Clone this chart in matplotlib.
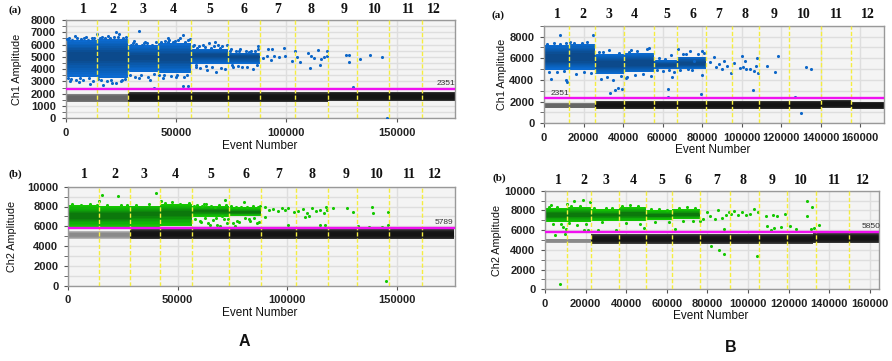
""" droplet amplitude plots for two runs, channels 1 and 2 """
from matplotlib import pyplot as plt
from matplotlib.colors import LinearSegmentedColormap
from matplotlib.ticker import MultipleLocator

W, H = 892, 361
WELL_NAMES = [str(i) for i in range(1, 13)]

# panel A, channel 1
aa_edges = [14050, 28250, 42000, 56650, 73400, 88000, 104100, 118900, 131900, 146700, 161600]
aa_pos_ends = [14050, 28250, 42000, 56650, 73400, 88000]
aa_pos_lo = [3400, 3300, 3800, 3700, 4400, 4400]
aa_pos_hi = [6350, 6450, 5950, 6100, 5650, 5350]
aa_core_lo = [4300, 4300, 4500, 4400, 4850, 4800]
aa_core_hi = [5800, 5800, 5400, 5500, 5350, 5200]
aa_neg_ends = [28250, 118900, 176400]
aa_neg_lo = [1300, 1300, 1400]
aa_neg_hi = [1950, 2100, 2150]
aa_x = [22800, 33400, 14050, 46200, 53000, 56300, 67700, 73000, 87300, 91500, 93700, 99100,
        103900, 109700, 114500, 118600, 110700, 115300, 126900, 128400, 128400, 133400, 137900,
        143200, 130400, 40200, 53300, 55300, 145800, 89600, 91000, 93000, 94500, 96500, 99500,
        102500, 104800, 106300, 111000, 112500, 115500, 117000, 118300, 2000, 6000, 11000,
        17000, 21000, 25000, 33000, 38000, 44000, 50000, 59000, 62000, 65000, 69000, 71000,
        76000, 80000, 85000, 4000, 9000, 19000, 24000, 31000, 36000, 47000, 52000, 58000,
        61000, 64000, 68000, 72000, 75000, 79000, 84000,
        500, 1500, 3000, 5000, 7000, 8500, 10000, 12000, 13000, 15500, 16500, 18000, 20000, 22000,
        23500, 26000, 27500, 29500, 30500, 32000, 34500, 35500, 37000, 39000, 41000, 43000, 45000,
        46500, 48500, 49500, 51000, 54000, 55500, 57500, 59500, 60500, 63000, 66000, 67000, 70000,
        74500, 77000, 78500, 81500, 83000, 86000, 87000,
        1000, 2500, 4500, 6500, 8000, 10500, 12500, 14500, 16000, 18500, 20500, 23000, 25500, 27000,
        29000, 31500, 34000, 37500, 40000, 42500, 44500, 47500, 50500, 53500, 55000, 59000, 63500,
        66500, 70500, 75500, 78000, 82000, 86500]
aa_y = [7000, 7130, 6830, 6560, 6780, 6420, 6180, 5960, 5900, 5610, 5610, 5690,
        5470, 5340, 5560, 5500, 4060, 4340, 5150, 5150, 4550, 4850, 5150,
        4960, 2570, 2440, 2630, 2630, 50, 4880, 5050, 4750, 5100, 4950, 5050,
        4700, 5000, 4600, 5050, 4900, 4800, 5000, 5100, 3050, 2950, 2800,
        2700, 2850, 3000, 3300, 3150, 3300, 3400, 4200, 6000, 6100, 6000, 5900,
        4150, 4200, 4050, 6700, 6600, 6700, 6850, 6300, 6250, 6350, 6500, 5950,
        4100, 3950, 3800, 4000, 5650, 5600, 5500,
        6450, 6500, 6400, 6550, 6450, 6500, 6400, 6500, 6550, 6500, 6600, 6550, 6500, 6650,
        6600, 6500, 6650, 6000, 6100, 6050, 6000, 6100, 6150, 6000, 6250, 6200, 6300,
        6250, 6200, 6300, 6350, 6250, 6400, 5900, 5750, 5850, 5800, 5750, 5900, 5700,
        5450, 5500, 5450, 5500, 5400, 5450, 5600,
        3300, 3200, 3100, 3250, 3150, 3300, 3000, 3200, 3100, 3000, 3150, 2900, 3100, 3200,
        3500, 3400, 3550, 3400, 3600, 3500, 3550, 3450, 3500, 3400, 3500, 4300, 4250,
        4150, 4100, 4300, 4250, 4200, 4350]
aa_limit = 2351

# panel A, channel 2
ab_edges = [14100, 28200, 42000, 56500, 73500, 88000, 104000, 118500, 131900, 146400, 161400]
ab_pos_ends = [14100, 28200, 42000, 56500, 73500, 88000]
ab_pos_lo = [5900, 5900, 5950, 6000, 6950, 7000]
ab_pos_hi = [8150, 8050, 8100, 8250, 8050, 7900]
ab_core_lo = [6500, 6500, 6800, 6800, 7300, 7250]
ab_core_hi = [7600, 7600, 7700, 7800, 7700, 7600]
ab_neg_ends = [28200, 176000]
ab_neg_lo = [4750, 4700]
ab_neg_hi = [5500, 5700]
ab_x = [15700, 22900, 40300, 42300, 47500, 14000, 71500, 62000, 80000, 90000, 91500, 93500,
        95500, 97500, 99000, 100500, 103000, 105000, 107000, 109000, 111000, 113000, 115000,
        116500, 117500, 118000, 121000, 127000, 130000, 139000, 138500, 146000, 100500, 115000,
        117000, 146000, 145000, 60000, 64000, 70000, 78000, 83000, 86000, 90000, 66000, 75000,
        132000, 137000, 143000, 73000, 76000, 68000, 110000, 108000,
        57500, 59000, 61000, 63000, 65000, 67000, 69000, 72000, 74500, 76500, 79000, 81500, 84500,
        86500, 87500, 58000, 60500, 62500, 64500, 67500, 69500, 71000, 72500, 77000, 80500, 82500,
        85000, 87000, 2000, 6000, 10000, 13000, 18000, 24000, 27000, 31000, 37000, 44000, 51000, 55000]
ab_y = [9150, 9050, 9350, 8600, 8450, 8600, 8650, 8300, 8450, 7900, 7600, 7750,
        7500, 7800, 7650, 7800, 7400, 7500, 7700, 7300, 7800, 7500, 7650,
        7300, 8000, 7600, 7800, 7850, 7450, 7300, 7950, 7450, 6150, 6100,
        6100, 6100, 450, 6500, 6300, 7000, 6400, 6500, 6350, 6900, 6600, 6300,
        6000, 5950, 5950, 6700, 6000, 6100, 7000, 6900,
        8100, 8200, 8050, 8250, 8100, 8000, 8200, 8150, 8050, 8000, 7950, 8000, 8100,
        7950, 8050, 6700, 6400, 6850, 6100, 6800, 6050, 6750, 6350, 6550, 6800, 6700,
        6800, 6400, 8250, 8200, 8250, 8150, 8150, 8150, 8200, 8200, 8250, 8350, 8300, 8350]
ab_limit = 5789

# panel B, channel 1
ba_edges = [12800, 26000, 40500, 55500, 67300, 82000, 95300, 108600, 124100, 140000, 155100]
ba_pos_ends = [12800, 26000, 40500, 55500, 67300, 82000]
ba_pos_lo = [4950, 4950, 4550, 4700, 5000, 5050]
ba_pos_hi = [7200, 7350, 6350, 6500, 5850, 6150]
ba_core_lo = [5300, 5300, 4950, 5000, 5150, 5200]
ba_core_hi = [6800, 6900, 5950, 6100, 5600, 5850]
ba_neg_ends = [26000, 140000, 155100, 172000]
ba_neg_lo = [1380, 1300, 1400, 1300]
ba_neg_hi = [1850, 2050, 2150, 2000]
ba_x = [8300, 25000, 13000, 3500, 11200, 11800, 33500, 36000, 37500, 39500, 41500, 62500, 62800,
        79500, 79700, 80000, 67800, 70300, 84000, 87000, 88500, 91000, 92500, 94500, 96000,
        100000, 100500, 101500, 104000, 106000, 108000, 108500, 105500, 113000, 117000, 118500,
        132500, 135000, 127000, 130000, 86000, 90000, 99000, 102000, 107000, 65000, 74000,
        30000, 44000, 53000, 58000, 61000, 64000, 72000, 76000,
        1500, 5000, 8000, 11000, 15000, 19000, 22000, 28000, 33000, 38000, 43000, 47000, 52000,
        2500, 6500, 10000, 16000, 20000, 24000, 29000, 32000, 35000, 39000, 42000, 46000, 50000, 54000,
        57000, 60000, 63000, 66000, 69000, 73000, 75000, 78000, 81000]
ba_y = [8150, 8150, 7500, 4050, 3950, 3800, 2800, 3100, 3300, 3150, 4150, 3150, 2400,
        2700, 6700, 4450, 6850, 6350, 5650, 5200, 5500, 5750, 5300, 4600, 5550,
        6200, 5150, 5700, 5050, 4800, 6000, 4600, 3050, 5250, 4700, 6200,
        5200, 5050, 2400, 950, 6100, 5000, 5100, 5000, 5300, 4300, 6650,
        6600, 6750, 6900, 6000, 5950, 6300, 6400, 5700,
        7300, 7400, 7350, 7450, 7400, 7450, 7500, 6600, 6750, 6500, 6600, 6700, 6850,
        4750, 4700, 4800, 4500, 4750, 4600, 4100, 4300, 4000, 4400, 4250, 4450, 4500, 4400,
        4900, 4850, 4900, 4750, 4950, 5000, 4900, 6350, 6500]
ba_limit = 2351

# panel B, channel 2
bb_edges = [10800, 22500, 36300, 49600, 62700, 76500, 91000, 105400, 119400, 133700, 149800]
bb_pos_ends = [10800, 22500, 36300, 49600, 62700, 76500]
bb_pos_lo = [6800, 6800, 6950, 6900, 7050, 7100]
bb_pos_hi = [8250, 8350, 8100, 8350, 8000, 8150]
bb_core_lo = [7150, 7150, 7250, 7200, 7250, 7300]
bb_core_hi = [7900, 8000, 7800, 8000, 7750, 7850]
bb_neg_ends = [22500, 132000, 164500]
bb_neg_lo = [4700, 4600, 4650]
bb_neg_hi = [5150, 5600, 5700]
bb_x = [3000, 11000, 14500, 18500, 22000, 9000, 10500, 19000, 21000, 76500, 78000, 80000, 81500,
        83500, 85000, 87000, 89000, 90500, 91500, 93000, 95000, 97000, 99000, 101000, 103000,
        105000, 109000, 112500, 114500, 118000, 129000, 131500, 129000, 135000, 131000, 132500,
        109500, 111500, 113000, 116000, 120500, 123500, 88000, 7500, 82000, 85500, 88000, 104500,
        5000, 10000, 64000, 49000, 35000, 26000,
        2000, 6000, 13000, 17000, 24000, 30000, 33000, 38000, 42000, 46000, 52000, 56000, 60000,
        66000, 70000, 74000, 4000, 8000, 12000, 16000, 20000, 28000, 40000, 47000, 54000, 61000, 68000, 73000]
bb_y = [8500, 8650, 9000, 9100, 8850, 6300, 6150, 6000, 6050, 6900, 7100, 7850, 7400,
        7100, 8050, 7200, 7500, 7800, 7600, 7900, 7500, 7850, 7500, 7600, 8100,
        7800, 7400, 7550, 7400, 7600, 9000, 8300, 7400, 6500, 6100, 6250,
        6400, 6000, 6200, 6300, 6400, 6100, 6150, 500, 4350, 4000, 3600, 3350,
        5500, 5600, 6100, 6200, 6000, 6000,
        8350, 8300, 8400, 8450, 8200, 8250, 8200, 8450, 8500, 8400, 8150, 8100, 8050,
        8250, 8300, 8200, 6600, 6650, 6700, 6500, 6600, 6800, 6750, 6650, 6850, 6800, 6950, 6900]
bb_limit = 5850


def add_well_labels(fig, xs, y):
    """ put well numbers above a panel, positions in image pixels """
    for _name, _x in zip(WELL_NAMES, xs):
        fig.text(_x / W, 1 - y / H, _name, family="Liberation Serif", fontweight="bold",
                 fontsize=10, ha="center", va="center", color="#111111")


def draw_band(ax, start, width, lo, hi, core_lo, core_hi, cmap, num=8):
    """ nested blocks from the outer limits of a well to its dense core """
    for k in range(num):
        _t = k / (num - 1)
        _lo = lo + (core_lo - lo) * _t
        _hi = hi + (core_hi - hi) * _t
        ax.bar(start, _hi - _lo, width, _lo, align="edge", color=cmap(_t), linewidth=0, zorder=2)


def draw_panel(fig, box, xlim, ylim, xstep, ystep, ylabel, colors, greys, dot_color, edges, pos_ends, pos_lo, pos_hi,
               core_lo, core_hi, neg_ends, neg_lo, neg_hi, x, y, limit, limit_xy, ylabel_px, xlabel_px):
    """ draw one amplitude panel, box is left, top, right, bottom in image pixels """
    _left, _top, _right, _bottom = box
    ax = fig.add_axes([_left / W, 1 - _bottom / H, (_right - _left) / W, (_bottom - _top) / H])
    ax.set_facecolor("#f4f4f4")
    ax.set_xlim(xlim)
    ax.set_ylim(ylim)

    # grid
    ax.xaxis.set_major_locator(MultipleLocator(xstep))
    ax.yaxis.set_major_locator(MultipleLocator(ystep))
    ax.yaxis.set_minor_locator(MultipleLocator(ystep / 2))
    ax.grid(True, which="both", color="#dedede", linewidth=1.0, zorder=0)
    ax.set_axisbelow(True)

    # positive clouds, one block per well
    _cmap = LinearSegmentedColormap.from_list("pos", colors)
    _start = 0
    for i, _end in enumerate(pos_ends):
        _mid = (core_hi[i] + core_lo[i]) / 2
        _half = (core_hi[i] - core_lo[i]) / 4
        draw_band(ax, _start, _end - _start, pos_lo[i], pos_hi[i], _mid - _half, _mid + _half, _cmap)
        _start = _end

    # negative clouds
    _start = 0
    _grey_map = LinearSegmentedColormap.from_list("first", greys)
    _black_map = LinearSegmentedColormap.from_list("rest", ["#3c3c3c", "#1c1c1c", "#141414"])
    for i, _end in enumerate(neg_ends):
        _mid = (neg_hi[i] + neg_lo[i]) / 2
        draw_band(ax, _start, _end - _start, neg_lo[i], neg_hi[i], _mid - 150, _mid + 150,
                  _grey_map if i == 0 else _black_map)
        _start = _end

    # single droplets
    ax.scatter(x, y, s=5, color=dot_color, linewidths=0, zorder=3)

    # well boundaries and threshold
    for _edge in edges:
        ax.axvline(_edge, color="#f5ee40", linewidth=1.0, linestyle=(0, (3, 1.5)), zorder=4)
    ax.axhline(limit, color="#f010f0", linewidth=1.7, zorder=5)
    ax.text(limit_xy[0], limit_xy[1], str(limit), fontsize=6, color="#333333", family="Liberation Sans",
            ha="left", va="center", zorder=6)

    # frame and labels
    for _spine in ax.spines.values():
        _spine.set_color("#999999")
        _spine.set_linewidth(1.0)
    ax.tick_params(axis="both", which="major", length=3, color="#555555", labelsize=8, pad=4, labelcolor="#222222")
    ax.tick_params(axis="y", which="minor", length=3, color="#555555")
    for _label in ax.get_xticklabels() + ax.get_yticklabels():
        _label.set_family("Liberation Sans")
        _label.set_fontweight("bold")
    ax.set_xlabel("Event Number", family="Liberation Sans", fontsize=8.5, color="#111111")
    ax.set_ylabel(ylabel, family="Liberation Sans", fontsize=7.8, color="#111111")
    _w, _h = _right - _left, _bottom - _top
    ax.yaxis.set_label_coords((ylabel_px - _left) / _w, 0.5)
    ax.xaxis.set_label_coords(xlabel_px[0], (_bottom - xlabel_px[1]) / _h)
    ax.xaxis.label.set_verticalalignment("center")
    ax.yaxis.label.set_verticalalignment("center")
    return ax


def main():
    plt.rcParams["font.family"] = ["Liberation Sans", "DejaVu Sans"]
    fig = plt.figure(figsize=(W / 100, H / 100), dpi=100, facecolor="white")

    blue = ["#0b6ad0", "#0a5cb0", "#0c4a8c"]
    green = ["#14c800", "#0fa80a", "#0c780c"]
    grey_dark = ["#808080", "#6c6c6c", "#666666"]
    grey_light = ["#b4b4b4", "#989898", "#8a8a8a"]
    blue_dot = "#0c66c8"
    green_dot = "#14c800"

    draw_panel(fig, (65.7, 20, 455, 118.3), (0, 176400), (0, 8000), 50000, 1000, "Ch1 Amplitude", blue, grey_dark, blue_dot,
               aa_edges, aa_pos_ends, aa_pos_lo, aa_pos_hi, aa_core_lo, aa_core_hi,
               aa_neg_ends, aa_neg_lo, aa_neg_hi, aa_x, aa_y, aa_limit, (168000, 2800), 17, (0.499, 146))
    draw_panel(fig, (68, 186.7, 455, 285.7), (0, 176400), (0, 10000), 50000, 2000, "Ch2 Amplitude", green, grey_light, green_dot,
               ab_edges, ab_pos_ends, ab_pos_lo, ab_pos_hi, ab_core_lo, ab_core_hi,
               ab_neg_ends, ab_neg_lo, ab_neg_hi, ab_x, ab_y, ab_limit, (167000, 6350), 12, (0.495, 312.7))
    draw_panel(fig, (544, 25.7, 884, 123.3), (0, 172000), (0, 9000), 20000, 2000, "Ch1 Amplitude", blue, grey_dark, blue_dot,
               ba_edges, ba_pos_ends, ba_pos_lo, ba_pos_hi, ba_core_lo, ba_core_hi,
               ba_neg_ends, ba_neg_lo, ba_neg_hi, ba_x, ba_y, ba_limit, (3500, 2750), 502, (0.497, 150))
    draw_panel(fig, (545, 190.7, 879, 289.3), (0, 164500), (0, 10000), 20000, 2000, "Ch2 Amplitude", green, grey_light, green_dot,
               bb_edges, bb_pos_ends, bb_pos_lo, bb_pos_hi, bb_core_lo, bb_core_hi,
               bb_neg_ends, bb_neg_lo, bb_neg_hi, bb_x, bb_y, bb_limit, (156000, 6350), 497, (0.497, 316))

    # well numbers
    add_well_labels(fig, [83, 113, 143, 173, 210, 244, 278, 311, 344, 375, 408, 434], 9.5)
    add_well_labels(fig, [84, 115, 144, 175, 211, 246, 279, 312, 346, 377, 409, 435], 175)
    add_well_labels(fig, [557, 583, 609, 634, 667, 693, 719, 745, 774, 804, 836, 868], 14)
    add_well_labels(fig, [558, 584, 606, 633, 662, 688, 717, 743, 772, 801, 834, 863], 180)

    # panel tags
    for _x, _y, _s in [(15, 10, "(a)"), (15, 174, "(b)"), (498, 15, "(a)"), (499, 178, "(b)")]:
        fig.text(_x / W, 1 - _y / H, _s, family="Liberation Serif", fontweight="bold", fontsize=8,
                 ha="center", va="center", color="#111111")
    for _x, _y, _s in [(244, 342, "A"), (731, 348, "B")]:
        fig.text(_x / W, 1 - _y / H, _s, family="Liberation Sans", fontweight="bold", fontsize=11.5,
                 ha="center", va="center", color="#111111")

    fig.savefig("out.png", dpi=100)


if __name__ == "__main__":
    main()
